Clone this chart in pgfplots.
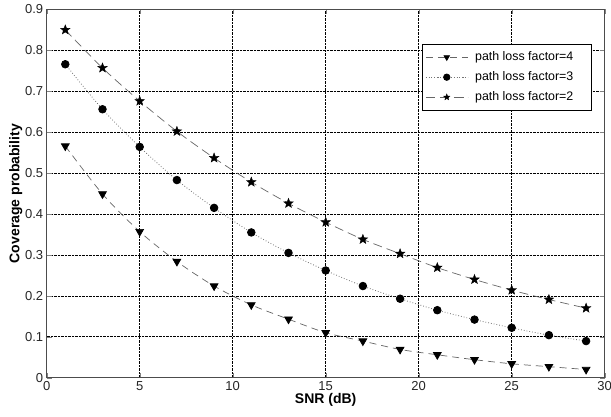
\documentclass[border=0pt]{standalone}
\usepackage{fontspec}
\setmainfont{Liberation Sans}
\usepackage{pgfplots}
\pgfplotsset{compat=1.18}
\pgfdeclareplotmark{fstar}{%
  \pgfpathmoveto{\pgfpointpolar{90}{\pgfplotmarksize}}%
  \pgfpathlineto{\pgfpointpolar{126}{0.42\pgfplotmarksize}}%
  \pgfpathlineto{\pgfpointpolar{162}{\pgfplotmarksize}}%
  \pgfpathlineto{\pgfpointpolar{198}{0.42\pgfplotmarksize}}%
  \pgfpathlineto{\pgfpointpolar{234}{\pgfplotmarksize}}%
  \pgfpathlineto{\pgfpointpolar{270}{0.42\pgfplotmarksize}}%
  \pgfpathlineto{\pgfpointpolar{306}{\pgfplotmarksize}}%
  \pgfpathlineto{\pgfpointpolar{342}{0.42\pgfplotmarksize}}%
  \pgfpathlineto{\pgfpointpolar{18}{\pgfplotmarksize}}%
  \pgfpathlineto{\pgfpointpolar{54}{0.42\pgfplotmarksize}}%
  \pgfpathclose\pgfusepathqfillstroke}
\begin{document}
\begin{tikzpicture}
\useasboundingbox (-46.7pt,-38.3pt) rectangle (564.3pt,377.7pt);
\begin{axis}[
  at={(0,0)}, anchor=south west,
  scale only axis, width=558pt, height=368.3pt,
  xmin=0, xmax=30, ymin=0, ymax=0.9,
  xtick={0,5,...,30}, ytick={0,0.1,...,0.9},
  yticklabel={\ifdim\tick pt=0pt 0\else\pgfmathprintnumber[fixed,fixed zerofill,precision=1]{\tick}\fi},
  /pgf/number format/assume math mode=true,
  tick label style={font=\fontsize{13}{15}\selectfont, text=black!85},
  xlabel={\textbf{SNR (dB)}}, ylabel={\textbf{Coverage probability}},
  label style={font=\fontsize{14}{16}\selectfont},
  xlabel style={yshift=4pt},
  ylabel style={yshift=-4pt},
  grid=major, major grid style={black, densely dotted, line width=0.6pt},
  tick align=inside, major tick length=5pt,
  axis line style={black!70, line width=0.8pt},
  legend style={at={(0.9767,0.907)}, anchor=north east, draw=black, line width=0.6pt,
    font=\fontsize{12.4}{14}\selectfont, row sep=5.5pt, column sep=5pt,
    inner xsep=3pt, inner ysep=6pt, fill=white},
  legend cell align=left,
  legend image code/.code={\draw[mark repeat=2,mark phase=2, mark size=3.2pt] plot coordinates {(0pt,0pt) (21pt,0pt) (42pt,0pt)};},
]
\addplot[smooth, black!60, dash pattern=on 7pt off 5pt, line width=0.7pt, mark=triangle*, mark size=4.5pt, mark options={rotate=180, solid, fill=black, draw=black}]
coordinates {(1,0.566)(3,0.449)(5,0.357)(7,0.284)(9,0.224)(11,0.178)(13,0.143)(15,0.110)(17,0.0895)(19,0.069)(21,0.056)(23,0.044)(25,0.034)(27,0.027)(29,0.020)};
\addlegendentry{path loss factor=4\hspace*{13pt}}
\addplot[smooth, black!55, dotted, line width=0.8pt, mark=*, mark size=3.8pt, mark options={solid, fill=black, draw=black}]
coordinates {(1,0.766)(3,0.656)(5,0.564)(7,0.483)(9,0.415)(11,0.355)(13,0.305)(15,0.262)(17,0.224)(19,0.193)(21,0.165)(23,0.142)(25,0.122)(27,0.104)(29,0.0895)};
\addlegendentry{path loss factor=3\hspace*{13pt}}
\addplot[smooth, black!60, dash pattern=on 9pt off 5pt, line width=0.7pt, mark=fstar, mark size=5pt, mark options={solid, fill=black, draw=black, line width=0.4pt}]
coordinates {(1,0.850)(3,0.757)(5,0.676)(7,0.602)(9,0.537)(11,0.478)(13,0.426)(15,0.380)(17,0.338)(19,0.303)(21,0.269)(23,0.240)(25,0.214)(27,0.191)(29,0.170)};
\addlegendentry{path loss factor=2\hspace*{13pt}}
\end{axis}
\end{tikzpicture}
\end{document}
